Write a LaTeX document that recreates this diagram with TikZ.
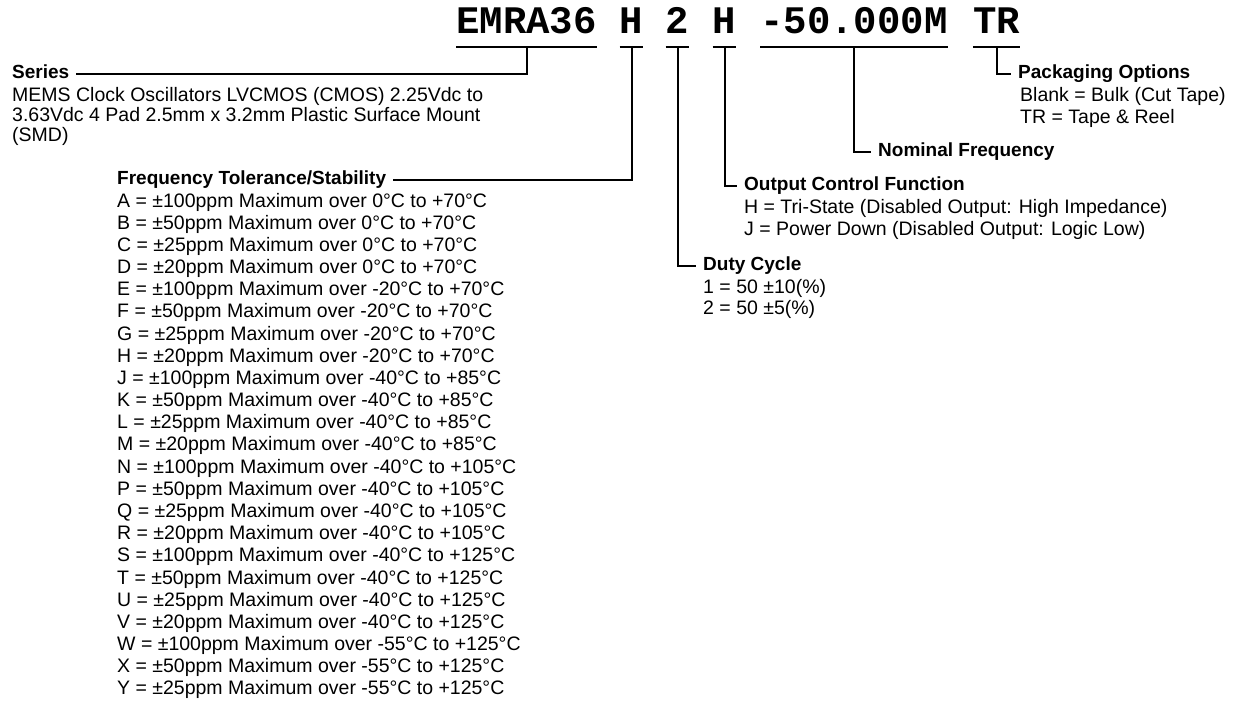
\documentclass[tikz,border=0pt]{standalone}
\usepackage{fontspec}
\setmainfont{Liberation Sans}
\newfontfamily\partfont{Liberation Mono}
\usetikzlibrary{positioning}

\begin{document}
\begin{tikzpicture}[x=1pt,y=-1pt,
  code/.style={font=\partfont\bfseries\fontsize{39}{40}\selectfont,
    inner xsep=0pt, inner ysep=0pt, text depth=14pt, anchor=base},
  head/.style={font=\bfseries\fontsize{19}{21}\selectfont, anchor=west,
    inner xsep=7pt, inner ysep=0pt, text height=13.5pt, text depth=4pt},
  item/.style={font=\fontsize{19.5}{22}\selectfont, inner sep=0pt, anchor=base west},
  lead/.style={line width=2pt}]
\useasboundingbox (0,0) rectangle (1239,713);

% part number
\node[code] (pn-series) at (526.5,33) {EMRA36};
\node[code] (pn-tol)    at (631.5,33) {H};
\node[code] (pn-duty)   at (677.5,33) {2};
\node[code] (pn-out)    at (724.5,33) {H};
\node[code] (pn-freq)   at (854,33)   {-50.000M};
\node[code] (pn-pack)   at (996.5,33) {TR};

% headings
\node[head] (series)  at (5,74)     {Series};
\node[head] (tol)     at (110,180)  {Frequency Tolerance/Stability};
\node[head] (duty)    at (696,266)  {Duty Cycle};
\node[head] (outctl)  at (737,186)  {Output Control Function};
\node[head] (nomfreq) at (871,152)  {Nominal Frequency};
\node[head] (pack)    at (1011,74)  {Packaging Options};

% leaders
\draw[lead] (pn-series.south west) -- (pn-series.south east);
\draw[lead] (pn-series.south) |- (series.east);
\draw[lead] (pn-tol.south west) -- (pn-tol.south east);
\draw[lead] (pn-tol.south) |- (tol.east);
\draw[lead] (pn-duty.south west) -- (pn-duty.south east);
\draw[lead] (pn-duty.south) |- (duty.west);
\draw[lead] (pn-out.south west) -- (pn-out.south east);
\draw[lead] (pn-out.south) |- (outctl.west);
\draw[lead] (pn-freq.south west) -- (pn-freq.south east);
\draw[lead] (pn-freq.south) |- (nomfreq.west);
\draw[lead] (pn-pack.south west) -- (pn-pack.south east);
\draw[lead] (pn-pack.south) |- (pack.west);

% series
\node[item] (sd1) at (12,101) {MEMS Clock Oscillators LVCMOS (CMOS) 2.25Vdc to};
\node[item] (sd2) at (12,121) {3.63Vdc 4 Pad 2.5mm x 3.2mm Plastic Surface Mount};
\node[item] (sd3) at (12,141) {(SMD)};

% tolerance / stability
\foreach \t [count=\i from 0] in {
  A = ±100ppm Maximum over 0°C to +70°C,
  B = ±50ppm Maximum over 0°C to +70°C,
  C = ±25ppm Maximum over 0°C to +70°C,
  D = ±20ppm Maximum over 0°C to +70°C,
  E = ±100ppm Maximum over -20°C to +70°C,
  F = ±50ppm Maximum over -20°C to +70°C,
  G = ±25ppm Maximum over -20°C to +70°C,
  H = ±20ppm Maximum over -20°C to +70°C,
  J = ±100ppm Maximum over -40°C to +85°C,
  K = ±50ppm Maximum over -40°C to +85°C,
  L = ±25ppm Maximum over -40°C to +85°C,
  M = ±20ppm Maximum over -40°C to +85°C,
  N = ±100ppm Maximum over -40°C to +105°C,
  P = ±50ppm Maximum over -40°C to +105°C,
  Q = ±25ppm Maximum over -40°C to +105°C,
  R = ±20ppm Maximum over -40°C to +105°C,
  S = ±100ppm Maximum over -40°C to +125°C,
  T = ±50ppm Maximum over -40°C to +125°C,
  U = ±25ppm Maximum over -40°C to +125°C,
  V = ±20ppm Maximum over -40°C to +125°C,
  W = ±100ppm Maximum over -55°C to +125°C,
  X = ±50ppm Maximum over -55°C to +125°C,
  Y = ±25ppm Maximum over -55°C to +125°C}
  \node[item] (td\i) at (117,207+22.18*\i) {\t};

% duty cycle
\node[item] (dd1) at (703,293) {1 = 50 ±10(\%)};
\node[item] (dd2) at (703,314) {2 = 50 ±5(\%)};

% output control
\node[item] (od1) at (744,213) {H = Tri-State (Disabled Output: High Impedance)};
\node[item] (od2) at (744,235) {J = Power Down (Disabled Output: Logic Low)};

% packaging
\node[item] (pd1) at (1020,101) {Blank = Bulk (Cut Tape)};
\node[item] (pd2) at (1020,123) {TR = Tape \& Reel};
\end{tikzpicture}
\end{document}
